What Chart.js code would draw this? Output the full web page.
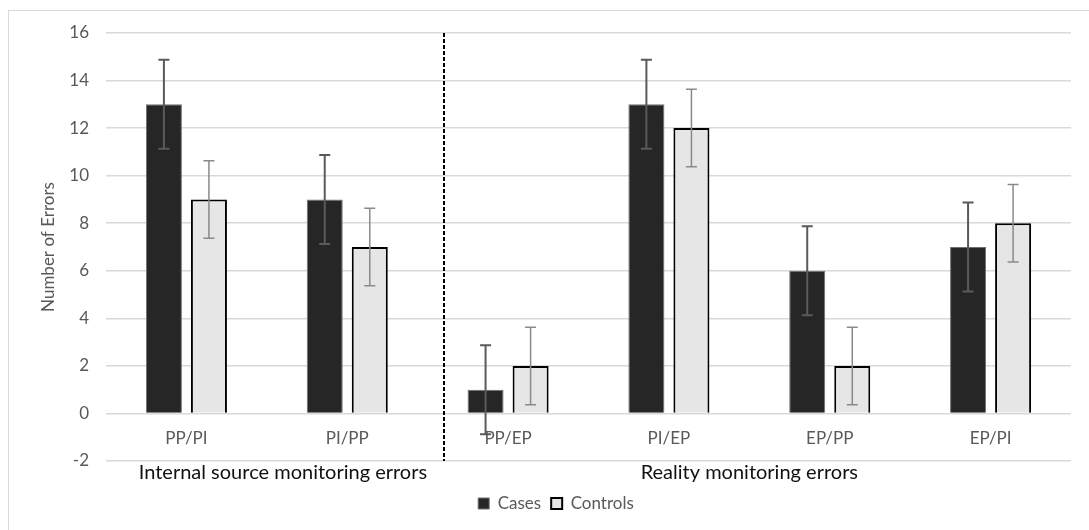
<!DOCTYPE html>
<html>
<head>
<meta charset="utf-8">
<script src="https://cdn.jsdelivr.net/npm/chart.js@4.4.1/dist/chart.umd.min.js"></script>
<style>
  html, body { margin: 0; padding: 0; background: #fff; }
  #wrap { position: relative; width: 1089px; height: 530px; overflow: hidden; }
  #frame { position: absolute; left: 8px; top: 10px; width: 1100px; height: 540px;
           border: 1px solid #d9d9d9; box-sizing: border-box; }
  canvas { position: absolute; left: 0; top: 0; }
</style>
</head>
<body>
<div id="wrap">
  <div id="frame"></div>
  <canvas id="chart" width="1089" height="530"></canvas>
</div>
<script>
// Error types and mean error counts per group
const categories = ['PP/PI', 'PI/PP', 'PP/EP', 'PI/EP', 'EP/PP', 'EP/PI'];
const casesValues = [13, 9, 1, 13, 6, 7];
const controlsValues = [9, 7, 2, 12, 2, 8];
const casesErrors = [1.87, 1.87, 1.87, 1.87, 1.87, 1.87];
const controlsErrors = [1.63, 1.63, 1.63, 1.63, 1.63, 1.63];

// Axis range and group captions
const yMin = -2, yMax = 16, yStep = 2;
const groupNames = ['Internal source monitoring errors', 'Reality monitoring errors'];
const groupCenters = [0.6, 3.5];   // category-index positions of the captions
const dividerAt = 1.6;             // category-index position of the dashed divider

const FONT = { family: 'Lato, "Open Sans", sans-serif', size: 17 };
const GROUP_FONT = { family: 'Lato, "Open Sans", sans-serif', size: 20 };
const GREY_TEXT = '#595959';

// Draws a symmetric error bar over every bar
const errorBars = {
  id: 'errorBars',
  afterDatasetsDraw(chart) {
    const { ctx } = chart;
    const y = chart.scales.y;
    chart.data.datasets.forEach((ds, di) => {
      const meta = chart.getDatasetMeta(di);
      meta.data.forEach((bar, i) => {
        const v = ds.data[i], e = ds.errors[i];
        const top = y.getPixelForValue(v + e);
        const bot = y.getPixelForValue(v - e);
        const cap = 5.5;
        ctx.save();
        ctx.strokeStyle = ds.errorColor;
        ctx.lineWidth = ds.errorWidth;
        ctx.beginPath();
        ctx.moveTo(bar.x, top); ctx.lineTo(bar.x, bot);
        ctx.moveTo(bar.x - cap, top); ctx.lineTo(bar.x + cap, top);
        ctx.moveTo(bar.x - cap, bot); ctx.lineTo(bar.x + cap, bot);
        ctx.stroke();
        ctx.restore();
      });
    });
  }
};

// Dashed separator between the two groups of error types
const divider = {
  id: 'divider',
  afterDatasetsDraw(chart) {
    const { ctx, chartArea } = chart;
    const x = Math.round(chart.scales.x.getPixelForValue(dividerAt));
    ctx.save();
    ctx.strokeStyle = '#000';
    ctx.lineWidth = 2;
    ctx.setLineDash([4, 2]);
    ctx.beginPath();
    ctx.moveTo(x, chartArea.top);
    ctx.lineTo(x, chartArea.bottom);
    ctx.stroke();
    ctx.restore();
  }
};

new Chart(document.getElementById('chart'), {
  type: 'bar',
  data: {
    labels: categories,
    datasets: [
      {
        label: 'Cases',
        data: casesValues,
        errors: casesErrors,
        errorColor: '#5a5a5a',
        errorWidth: 2,
        backgroundColor: '#262626',
        borderColor: '#707070',
        borderWidth: 1
      },
      {
        label: 'Controls',
        data: controlsValues,
        errors: controlsErrors,
        errorColor: '#8a8a8a',
        errorWidth: 1.5,
        backgroundColor: '#e7e6e6',
        borderColor: '#000000',
        borderWidth: 2
      }
    ]
  },
  options: {
    responsive: false,
    devicePixelRatio: 1,
    animation: false,
    categoryPercentage: 0.56,
    barPercentage: 0.8,
    layout: { padding: { left: 41, right: 18, top: 33, bottom: 8 } },
    scales: {
      x: {
        type: 'category',
        position: { y: 0 },
        grid: { display: false, drawTicks: false },
        border: { display: false },
        ticks: { color: GREY_TEXT, font: FONT, padding: 15, maxRotation: 0, autoSkip: false }
      },
      groups: {
        type: 'linear',
        axis: 'x',
        position: 'bottom',
        offset: false,
        bounds: 'data',
        min: -0.5,
        max: 5.5,
        grid: { display: false, drawTicks: false, offset: false },
        border: { display: false },
        afterBuildTicks(scale) { scale.ticks = groupCenters.map(v => ({ value: v })); },
        ticks: {
          color: '#111',
          font: GROUP_FONT,
          padding: 0,
          maxRotation: 0,
          autoSkip: false,
          callback: (v, i) => groupNames[i]
        }
      },
      y: {
        min: yMin,
        max: yMax,
        ticks: { stepSize: yStep, color: GREY_TEXT, font: FONT, padding: 17 },
        grid: { color: '#d9d9d9', lineWidth: 1.5, drawTicks: false },
        border: { display: false },
        title: { display: true, text: 'Number of Errors', color: GREY_TEXT, font: FONT,
                 padding: { top: -3, bottom: 0 } },
        afterFit(scale) { scale.width = 65; }
      }
    },
    plugins: {
      legend: {
        position: 'bottom',
        labels: { color: GREY_TEXT, font: FONT, boxWidth: 11, boxHeight: 11, padding: 10 }
      },
      tooltip: { enabled: false }
    }
  },
  plugins: [errorBars, divider]
});
</script>
</body>
</html>
